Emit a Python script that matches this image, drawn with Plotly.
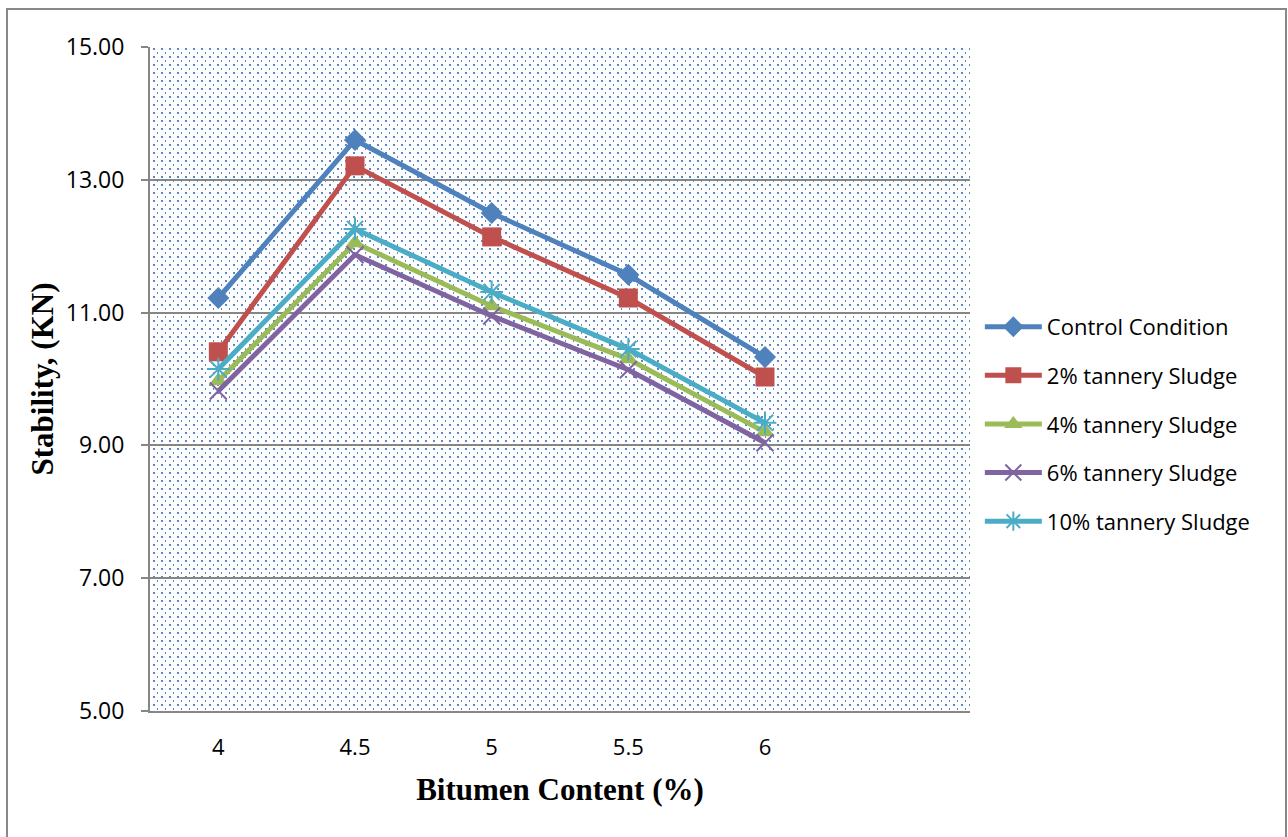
import base64
import plotly.graph_objects as go

# ---------------- data ----------------
bitumen = [4, 4.5, 5, 5.5, 6]
series_names = ["Control Condition", "2% tannery Sludge", "4% tannery Sludge",
                "6% tannery Sludge", "10% tannery Sludge"]
control = [11.22, 13.60, 12.50, 11.57, 10.33]
sludge_2 = [10.41, 13.21, 12.14, 11.22, 10.03]
sludge_4 = [9.97, 12.05, 11.10, 10.30, 9.20]
sludge_6 = [9.82, 11.87, 10.95, 10.14, 9.04]
sludge_10 = [10.15, 12.26, 11.31, 10.45, 9.34]
y_ticks = [5, 7, 9, 11, 13, 15]

# ---------------- styles ----------------
colors = ["#4F81BD", "#C0504D", "#9BBB59", "#8064A2", "#4BACC6"]
symbols = ["diamond", "square", "triangle-up", "x-thin-open", "asterisk-open"]
sizes = [17, 19, 17, 17, 19]
values = [control, sludge_2, sludge_4, sludge_6, sludge_10]

X_RANGE = [3.75, 6.75]
Y_RANGE = [5, 15]
GRID = "#868686"

fig = go.Figure()

# dotted background (staggered dot pattern) as an SVG image
svg = (
    '<svg xmlns="http://www.w3.org/2000/svg" width="820" height="664" '
    'shape-rendering="crispEdges">'
    '<defs><pattern id="p" width="8" height="8" patternUnits="userSpaceOnUse">'
    '<rect x="3" y="1" width="2" height="2" fill="#5A8AC6"/>'
    '<rect x="7" y="5" width="2" height="2" fill="#5A8AC6"/>'
    '</pattern></defs>'
    '<rect width="820" height="664" fill="url(#p)"/></svg>'
)
src = "data:image/svg+xml;base64," + base64.b64encode(svg.encode()).decode()
fig.add_layout_image(
    source=src, xref="x", yref="y", x=X_RANGE[0], y=Y_RANGE[1],
    sizex=X_RANGE[1] - X_RANGE[0], sizey=Y_RANGE[1] - Y_RANGE[0],
    sizing="stretch", layer="below", xanchor="left", yanchor="top",
)

for i, (name, vals) in enumerate(zip(series_names, values)):
    open_sym = symbols[i].endswith("open")
    fig.add_trace(go.Scatter(
        x=bitumen, y=vals, name=name, mode="lines+markers",
        legendgroup=f"g{i}",
        line=dict(color=colors[i], width=5),
        marker=dict(
            symbol=symbols[i], size=sizes[i], color=colors[i],
            line=dict(color=colors[i], width=2 if open_sym else 0),
        ),
    ))

fig.update_layout(
    width=1288, height=837,
    margin=dict(l=150, r=318, t=47, b=126),
    paper_bgcolor="white",
    plot_bgcolor="rgba(0,0,0,0)",
    font=dict(family="Open Sans", size=22, color="black"),
    legend=dict(
        x=1.012, y=0.61, xanchor="left", yanchor="top",
        font=dict(family="Open Sans", size=22, color="black"),
        tracegroupgap=17, traceorder="grouped",
        bgcolor="rgba(0,0,0,0)", itemwidth=57,
    ),
    showlegend=True,
)

fig.update_xaxes(
    range=X_RANGE, tickvals=bitumen, ticktext=[str(b) for b in bitumen],
    showgrid=False, zeroline=False,
    showline=True, linecolor=GRID, linewidth=2,
    ticks="", ticklabelstandoff=16,
    tickfont=dict(family="Open Sans", size=22),
    title=dict(text="<b>Bitumen Content (%)</b>",
               font=dict(family="Liberation Serif", size=31), standoff=18),
)
fig.update_yaxes(
    range=Y_RANGE, tickvals=y_ticks, tickformat=".2f",
    showgrid=True, gridcolor=GRID, gridwidth=1.5, zeroline=False,
    showline=True, linecolor=GRID, linewidth=2,
    ticks="outside", ticklen=7, tickcolor=GRID, tickwidth=1.5,
    ticklabelstandoff=12,
    tickfont=dict(family="Open Sans", size=23),
    title=dict(text="<b>Stability, (KN)</b>",
               font=dict(family="Liberation Serif", size=31), standoff=3),
)

# outer chart border (bottom edge falls outside the page, as in the reference)
fig.add_shape(type="rect", xref="paper", yref="paper",
              x0=(7 - 150) / 820, x1=(1286 - 150) / 820,
              y0=(711 - 845) / 664, y1=(711 - 9) / 664,
              line=dict(color="#888888", width=2), fillcolor="rgba(0,0,0,0)",
              layer="below")

fig.write_html("out.html")
